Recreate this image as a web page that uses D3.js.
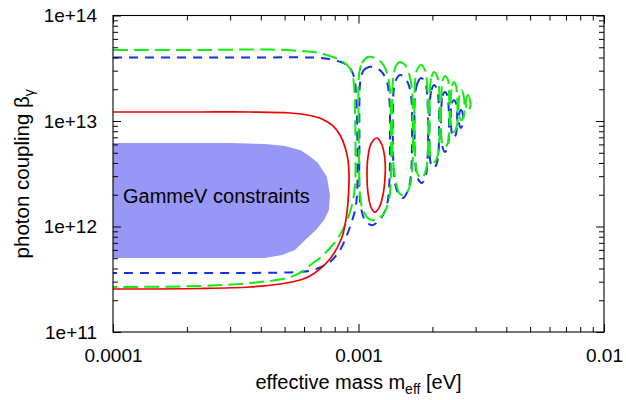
<!DOCTYPE html>
<html><head><meta charset="utf-8">
<script src="https://cdn.jsdelivr.net/npm/d3@7"></script>
<style>
body{margin:0;background:#fff}
svg{display:block}
text{font-family:"Liberation Sans",Arial,Helvetica,sans-serif;fill:#000}
</style>
</head><body><svg id="c" width="626" height="400"></svg>
<script>
// ---- axis ticks ----
const xTicks = [1e-4, 1e-3, 1e-2];
const xTickLabels = ["0.0001", "0.001", "0.01"];
const yTicks = [1e11, 1e12, 1e13, 1e14];
const yTickLabels = ["1e+11", "1e+12", "1e+13", "1e+14"];
const xTitle = ["effective mass m", "eff", " [eV]"];
const yTitle = ["photon coupling β", "γ"];
const regionLabel = "GammeV constraints";

// ---- GammeV excluded region (mass [eV], coupling) ----
const gammevTop = [[1.0e-4,6.19e12],[3.00e-4,6.19e12],[4.16e-4,6.05e12],[5.02e-4,5.80e12],[5.78e-4,5.31e12],[6.23e-4,4.76e12],[6.84e-4,4.00e12],[7.44e-4,2.95e12],[7.65e-4,1.99e12]];
const gammevBottom = [[7.58e-4,1.43e12],[7.24e-4,1.15e12],[6.71e-4,9.26e11],[6.06e-4,7.45e11],[5.51e-4,5.99e11],[4.88e-4,5.37e11],[4.16e-4,5.03e11],[1.0e-4,5.03e11]];

// ---- red solid contour ----
const redOuter = [[1.0e-4,1.217e13],[2.26e-4,1.217e13],[3.61e-4,1.217e13],[5.26e-4,1.191e13],[6.35e-4,1.127e13],[7.10e-4,1.045e13],[7.87e-4,8.97e12],[8.41e-4,7.37e12],[8.81e-4,5.67e12],[9.06e-4,4.27e12],[9.15e-4,3.08e12],[9.10e-4,1.99e12],[8.98e-4,1.37e12],[8.81e-4,1.03e12],[8.57e-4,7.95e11],[8.17e-4,6.25e11],[7.65e-4,4.92e11],[6.97e-4,3.96e11],[6.35e-4,3.40e11],[5.78e-4,3.11e11],[4.79e-4,2.85e11],[3.61e-4,2.67e11],[2.26e-4,2.585e11],[1.0e-4,2.557e11]];
const redIsland = [[1.189e-3,6.90e12],[1.246e-3,5.92e12],[1.282e-3,4.27e12],[1.282e-3,2.88e12],[1.258e-3,1.99e12],[1.212e-3,1.50e12],[1.167e-3,1.37e12],[1.124e-3,1.53e12],[1.093e-3,2.08e12],[1.083e-3,3.08e12],[1.093e-3,4.56e12],[1.124e-3,6.05e12]];

// ---- green long-dashed contour ----
const greenOuter = [[1.0e-4,4.71e13],[2.26e-4,4.71e13],[4.36e-4,4.76e13],[5.78e-4,4.61e13],[6.97e-4,4.41e13],[7.87e-4,4.04e13],[8.65e-4,3.63e13],[9.15e-4,3.25e13],[9.41e-4,2.85e13],[9.59e-4,2.19e13],[9.68e-4,1.27e13],[9.72e-4,5.31e12],[9.68e-4,2.47e12],[9.50e-4,1.78e12],[9.23e-4,1.37e12],[8.81e-4,1.03e12],[8.25e-4,7.78e11],[7.65e-4,6.25e11],[6.97e-4,5.03e11],[6.53e-4,4.51e11],[5.78e-4,3.63e11],[5.11e-4,3.25e11],[3.61e-4,2.91e11],[2.26e-4,2.73e11],[1.0e-4,2.67e11]];
const greenIsland1 = [[1.005e-3,2.73e13],[1.034e-3,3.55e13],[1.093e-3,4.04e13],[1.167e-3,3.96e13],[1.246e-3,3.55e13],[1.306e-3,2.85e13],[1.344e-3,1.97e13],[1.356e-3,8.22e12],[1.356e-3,3.08e12],[1.331e-3,1.78e12],[1.270e-3,1.34e12],[1.178e-3,1.15e12],[1.104e-3,1.18e12],[1.043e-3,1.43e12],[1.014e-3,1.99e12],[1.005e-3,4.27e12],[1.000e-3,1.27e13]];
const greenIsland2 = [[1.382e-3,2.45e13],[1.421e-3,3.32e13],[1.476e-3,3.63e13],[1.547e-3,3.40e13],[1.606e-3,2.79e13],[1.652e-3,1.97e13],[1.667e-3,8.22e12],[1.659e-3,3.83e12],[1.621e-3,2.47e12],[1.547e-3,1.99e12],[1.476e-3,2.03e12],[1.421e-3,2.59e12],[1.382e-3,4.27e12],[1.376e-3,1.02e13]];
const greenIsland3 = [[1.699e-3,2.34e13],[1.731e-3,3.05e13],[1.797e-3,3.40e13],[1.866e-3,3.05e13],[1.901e-3,2.34e13],[1.919e-3,1.27e13],[1.919e-3,5.31e12],[1.883e-3,3.43e12],[1.814e-3,2.88e12],[1.747e-3,3.08e12],[1.707e-3,4.27e12],[1.691e-3,1.02e13]];
const greenIsland4 = [[1.955e-3,2.06e13],[1.983e-3,2.61e13],[2.030e-3,2.91e13],[2.088e-3,2.67e13],[2.128e-3,2.06e13],[2.138e-3,1.14e13],[2.128e-3,5.92e12],[2.088e-3,4.46e12],[2.030e-3,4.09e12],[1.974e-3,4.46e12],[1.946e-3,6.61e12],[1.946e-3,1.27e13]];
const greenIsland5 = [[2.178e-3,1.88e13],[2.199e-3,2.39e13],[2.251e-3,2.67e13],[2.315e-3,2.45e13],[2.337e-3,1.88e13],[2.348e-3,1.07e13],[2.337e-3,7.37e12],[2.304e-3,6.05e12],[2.251e-3,5.67e12],[2.199e-3,6.05e12],[2.168e-3,7.37e12],[2.168e-3,1.07e13]];
const greenIsland6 = [[2.381e-3,1.76e13],[2.404e-3,2.15e13],[2.449e-3,2.34e13],[2.495e-3,2.15e13],[2.519e-3,1.76e13],[2.531e-3,1.27e13],[2.519e-3,9.17e12],[2.449e-3,7.87e12],[2.381e-3,9.17e12],[2.370e-3,1.27e13]];
const greenIsland7 = [[2.567e-3,1.65e13],[2.627e-3,1.97e13],[2.690e-3,1.65e13],[2.702e-3,1.33e13],[2.677e-3,1.09e13],[2.627e-3,1.02e13],[2.579e-3,1.09e13],[2.555e-3,1.33e13]];
const greenIsland8 = [[2.741e-3,1.58e13],[2.793e-3,1.76e13],[2.846e-3,1.58e13],[2.859e-3,1.39e13],[2.793e-3,1.24e13],[2.741e-3,1.39e13]];

// ---- blue short-dashed contour ----
const blueOuter = [[1.0e-4,4.0e13],[3.61e-4,4.0e13],[6.97e-4,3.96e13],[7.87e-4,3.79e13],[8.65e-4,3.55e13],[9.23e-4,3.18e13],[9.59e-4,2.61e13],[9.77e-4,1.84e13],[9.86e-4,1.02e13],[9.91e-4,4.27e12],[9.86e-4,1.99e12],[9.68e-4,1.43e12],[9.23e-4,9.89e11],[8.81e-4,7.45e11],[8.41e-4,5.99e11],[7.65e-4,4.61e11],[6.53e-4,3.87e11],[5.78e-4,3.71e11],[3.61e-4,3.63e11],[1.0e-4,3.63e11]];
const blueIsland1 = [[1.019e-3,2.45e13],[1.053e-3,3.05e13],[1.104e-3,3.25e13],[1.178e-3,3.18e13],[1.246e-3,2.91e13],[1.306e-3,2.34e13],[1.337e-3,1.58e13],[1.344e-3,6.61e12],[1.337e-3,2.76e12],[1.306e-3,1.60e12],[1.235e-3,1.20e12],[1.135e-3,1.03e12],[1.063e-3,1.15e12],[1.024e-3,1.50e12],[1.009e-3,2.22e12],[1.009e-3,6.61e12],[1.009e-3,1.58e13]];
const blueIsland2 = [[1.389e-3,1.88e13],[1.421e-3,2.45e13],[1.476e-3,2.73e13],[1.547e-3,2.56e13],[1.606e-3,2.15e13],[1.644e-3,1.58e13],[1.652e-3,6.61e12],[1.636e-3,3.08e12],[1.591e-3,2.22e12],[1.518e-3,1.86e12],[1.448e-3,2.08e12],[1.402e-3,2.76e12],[1.382e-3,5.31e12],[1.382e-3,1.14e13]];
const blueIsland3 = [[1.699e-3,1.76e13],[1.739e-3,2.29e13],[1.797e-3,2.56e13],[1.866e-3,2.34e13],[1.901e-3,1.84e13],[1.919e-3,1.02e13],[1.910e-3,4.27e12],[1.875e-3,2.95e12],[1.814e-3,2.59e12],[1.747e-3,2.82e12],[1.707e-3,3.83e12],[1.691e-3,8.22e12]];
const blueIsland4 = [[1.955e-3,1.58e13],[1.983e-3,1.97e13],[2.030e-3,2.19e13],[2.088e-3,2.01e13],[2.118e-3,1.58e13],[2.128e-3,9.17e12],[2.118e-3,5.08e12],[2.079e-3,3.91e12],[2.030e-3,3.59e12],[1.974e-3,3.91e12],[1.946e-3,5.31e12],[1.946e-3,9.17e12]];
const blueIsland5 = [[2.178e-3,1.42e13],[2.199e-3,1.73e13],[2.251e-3,1.88e13],[2.304e-3,1.73e13],[2.326e-3,1.42e13],[2.337e-3,9.17e12],[2.315e-3,5.92e12],[2.251e-3,5.08e12],[2.189e-3,5.92e12],[2.168e-3,9.17e12]];
const blueIsland6 = [[2.381e-3,1.27e13],[2.404e-3,1.48e13],[2.449e-3,1.58e13],[2.495e-3,1.48e13],[2.519e-3,1.27e13],[2.519e-3,9.17e12],[2.495e-3,7.53e12],[2.449e-3,6.90e12],[2.404e-3,7.53e12],[2.381e-3,9.17e12]];
const blueIsland7 = [[2.567e-3,1.14e13],[2.615e-3,1.27e13],[2.665e-3,1.14e13],[2.665e-3,9.57e12],[2.615e-3,8.58e12],[2.567e-3,9.57e12]];

// ---- layout ----
const L = 113, R = 604, T = 15.5, B = 332;
const svg = d3.select("#c");
const x = d3.scaleLog().domain([1e-4, 1e-2]).range([L, R]);
const y = d3.scaleLog().domain([1e11, 1e14]).range([B, T]);

svg.append("defs").append("clipPath").attr("id","clip")
  .append("rect").attr("x",L).attr("y",T).attr("width",R-L).attr("height",B-T);
const plot = svg.append("g").attr("clip-path","url(#clip)");

// GammeV fill
plot.append("path")
  .attr("d", d3.line().x(d=>x(d[0])).y(d=>y(d[1])).curve(d3.curveLinearClosed)(gammevTop.concat(gammevBottom)))
  .attr("fill", "#9797f6").attr("stroke", "none");

plot.append("text").attr("x", L + 10).attr("y", y(1.99e12) + 8)
  .attr("font-size", 20).text(regionLabel);

const lineOpen = d3.line().x(d=>x(d[0])).y(d=>y(d[1])).curve(d3.curveCatmullRom.alpha(0.5));
const lineClosed = d3.line().x(d=>x(d[0])).y(d=>y(d[1])).curve(d3.curveCatmullRomClosed.alpha(0.5));

function draw(open, islands, color, width, dash) {
  plot.append("path").attr("d", lineOpen(open)).attr("fill","none")
    .attr("stroke", color).attr("stroke-width", width).attr("stroke-dasharray", dash);
  islands.forEach(isl => plot.append("path").attr("d", lineClosed(isl)).attr("fill","none")
    .attr("stroke", color).attr("stroke-width", width).attr("stroke-dasharray", dash));
}
draw(blueOuter, [blueIsland1,blueIsland2,blueIsland3,blueIsland4,blueIsland5,blueIsland6,blueIsland7], "#1530e6", 2, "9,7");
draw(greenOuter, [greenIsland1,greenIsland2,greenIsland3,greenIsland4,greenIsland5,greenIsland6,greenIsland7,greenIsland8], "#10ee10", 2, "15,6");
draw(redOuter, [redIsland], "#f00000", 1.7, null);

// ---- axes ----
const xMinor = [], yMinor = [];
[1e-4, 1e-3].forEach(d => { for (let k = 2; k <= 9; k++) xMinor.push(k * d); });
[1e11, 1e12, 1e13].forEach(d => { for (let k = 2; k <= 9; k++) yMinor.push(k * d); });

function style(g) {
  g.select(".domain").remove();
  g.selectAll("line").attr("stroke", "#000").attr("stroke-width", 1);
  g.selectAll("text").attr("font-size", 19).attr("font-family", null).attr("fill", "#000");
  g.attr("font-family", null).attr("font-size", null);
}
svg.append("g").attr("transform", `translate(0,${B})`)
  .call(d3.axisBottom(x).tickValues(xTicks).tickFormat((d,i)=>xTickLabels[i]).tickSizeInner(-8).tickSizeOuter(0).tickPadding(17)).call(style);
svg.append("g").attr("transform", `translate(0,${B})`)
  .call(d3.axisBottom(x).tickValues(xMinor).tickFormat("").tickSizeInner(-5).tickSizeOuter(0)).call(style);
svg.append("g").attr("transform", `translate(0,${T})`)
  .call(d3.axisTop(x).tickValues(xTicks).tickFormat("").tickSizeInner(-8).tickSizeOuter(0)).call(style);
svg.append("g").attr("transform", `translate(0,${T})`)
  .call(d3.axisTop(x).tickValues(xMinor).tickFormat("").tickSizeInner(-5).tickSizeOuter(0)).call(style);
svg.append("g").attr("transform", `translate(${L},0)`)
  .call(d3.axisLeft(y).tickValues(yTicks).tickFormat((d,i)=>yTickLabels[i]).tickSizeInner(-8).tickSizeOuter(0).tickPadding(16)).call(style);
svg.append("g").attr("transform", `translate(${L},0)`)
  .call(d3.axisLeft(y).tickValues(yMinor).tickFormat("").tickSizeInner(-5).tickSizeOuter(0)).call(style);
svg.append("g").attr("transform", `translate(${R},0)`)
  .call(d3.axisRight(y).tickValues(yTicks).tickFormat("").tickSizeInner(-8).tickSizeOuter(0)).call(style);
svg.append("g").attr("transform", `translate(${R},0)`)
  .call(d3.axisRight(y).tickValues(yMinor).tickFormat("").tickSizeInner(-5).tickSizeOuter(0)).call(style);

svg.append("rect").attr("x", L).attr("y", T).attr("width", R-L).attr("height", B-T)
  .attr("fill", "none").attr("stroke", "#000").attr("stroke-width", 1.1);

// ---- titles ----
const xt = svg.append("text").attr("x", (L+R)/2).attr("y", 389).attr("text-anchor","middle").attr("font-size", 20);
xt.append("tspan").text(xTitle[0]);
xt.append("tspan").attr("font-size", 14).attr("dy", 5).text(xTitle[1]);
xt.append("tspan").attr("dy", -5).text(xTitle[2]);

const yt = svg.append("text").attr("transform", `translate(29,${(T+B)/2}) rotate(-90)`)
  .attr("text-anchor","middle").attr("font-size", 20.5);
yt.append("tspan").text(yTitle[0]);
yt.append("tspan").attr("font-size", 14).attr("dy", 5).text(yTitle[1]);
</script>
</body></html>
